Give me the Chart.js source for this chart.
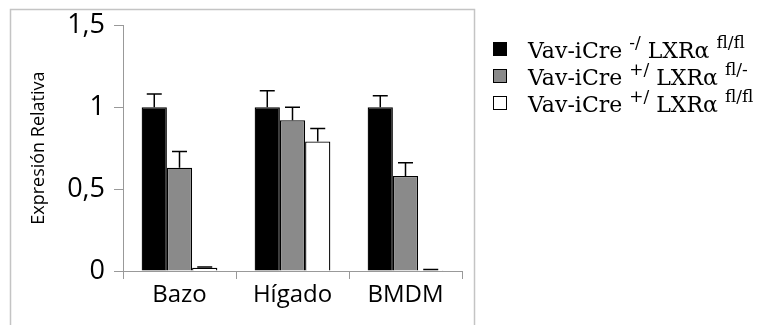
<!DOCTYPE html>
<html>
<head>
<meta charset="utf-8">
<script src="https://cdn.jsdelivr.net/npm/chart.js@4"></script>
<style>
  html, body { margin: 0; padding: 0; background: #fff; }
  #wrap { position: relative; width: 766px; height: 325px; }
  #legend { position: absolute; left: 493px; top: 35px; font-family: "DejaVu Serif", serif; font-size: 22px; color: #000; }
  #legend .row { height: 27px; display: flex; align-items: center; white-space: nowrap; }
  #legend .box { width: 12px; height: 12px; border: 1px solid #000; box-sizing: content-box; margin-right: 21px; }
  #legend sup { font-size: 17px; position: relative; top: -2px; }
</style>
</head>
<body>
<div id="wrap">
  <canvas id="chart" width="766" height="325"></canvas>
  <div id="legend"></div>
</div>
<script>
// tejidos
var categories = ["Bazo", "Hígado", "BMDM"];

// genotipos (para la leyenda)
var creGenotype = ["-/", "+/", "+/"];
var lxrGenotype = ["fl/fl", "fl/-", "fl/fl"];
var seriesColors = ["#000000", "#8a8a8a", "#ffffff"];

// expresion relativa por genotipo
var creNegFlFl = [1.0, 1.0, 1.0];
var crePosFlNeg = [0.63, 0.92, 0.58];
var crePosFlFl = [0.02, 0.79, 0.005];

// error (solo hacia arriba)
var errCreNegFlFl = [0.08, 0.10, 0.07];
var errCrePosFlNeg = [0.10, 0.08, 0.08];
var errCrePosFlFl = [0.005, 0.08, 0.004];

var yTicks = [0, 0.5, 1, 1.5];

var values = [creNegFlFl, crePosFlNeg, crePosFlFl];
var errors = [errCreNegFlFl, errCrePosFlNeg, errCrePosFlFl];

var datasets = [];
for (var i = 0; i < values.length; i++) {
	datasets.push({
		label: "Vav-iCre " + creGenotype[i] + " LXRα " + lxrGenotype[i],
		data: values[i],
		errors: errors[i],
		backgroundColor: seriesColors[i],
		borderColor: "#000",
		borderWidth: 1.3,
		barPercentage: 1.0,
		categoryPercentage: 0.67
	});
}

// marco gris alrededor del grafico
var framePlugin = {
	id: "frame",
	beforeDraw: function(chart) {
		var ctx = chart.ctx;
		ctx.save();
		ctx.strokeStyle = "#c4c4c4";
		ctx.lineWidth = 1.5;
		ctx.strokeRect(10.5, 9.5, 464, 340);
		ctx.restore();
	}
};

// barras de error
var errorBarPlugin = {
	id: "errorBars",
	afterDatasetsDraw: function(chart) {
		var ctx = chart.ctx;
		var yScale = chart.scales.y;
		ctx.save();
		ctx.strokeStyle = "#000";
		ctx.lineWidth = 1.5;
		chart.data.datasets.forEach(function(ds, di) {
			var meta = chart.getDatasetMeta(di);
			meta.data.forEach(function(bar, j) {
				var v = ds.data[j];
				var top = yScale.getPixelForValue(v + ds.errors[j]);
				var half = 7.5;
				ctx.beginPath();
				ctx.moveTo(bar.x, bar.y);
				ctx.lineTo(bar.x, top);
				ctx.moveTo(bar.x - half, top);
				ctx.lineTo(bar.x + half, top);
				ctx.stroke();
			});
		});
		ctx.restore();
	}
};

var config = {
	type: "bar",
	data: { labels: categories, datasets: datasets },
	options: {
		responsive: false,
		animation: false,
		layout: { padding: { left: 0, top: 25, right: 304, bottom: 0 } },
		plugins: { legend: { display: false }, tooltip: { enabled: false } },
		scales: {
			x: {
				grid: { offset: true, drawOnChartArea: false, tickLength: 8, color: "#999", lineWidth: 1 },
				border: { color: "#999" },
				ticks: { color: "#000", padding: 2, font: { family: "Open Sans", size: 24 } },
				afterFit: function(s) { s.height = 54; }
			},
			y: {
				min: 0,
				max: 1.5,
				afterBuildTicks: function(s) { s.ticks = yTicks.map(function(v) { return { value: v }; }); },
				grid: { drawOnChartArea: false, tickLength: 9, color: "#999" },
				border: { color: "#999" },
				ticks: {
					color: "#000",
					padding: 9,
					font: { family: "Open Sans", size: 27 },
					callback: function(v) { return String(v).replace(".", ","); }
				},
				title: {
					display: true,
					text: "Expresión Relativa",
					color: "#000",
					font: { family: "Open Sans", size: 18 },
					padding: { top: 28, bottom: 0 }
				},
				afterFit: function(s) { s.width = 123; }
			}
		}
	},
	plugins: [framePlugin, errorBarPlugin]
};

var myChart = new Chart("chart", config);

// leyenda con superindices
var legend = document.getElementById("legend");
for (var k = 0; k < datasets.length; k++) {
	var row = document.createElement("div");
	row.className = "row";
	var box = document.createElement("span");
	box.className = "box";
	box.style.background = seriesColors[k];
	row.appendChild(box);
	var txt = document.createElement("span");
	txt.innerHTML = "Vav-iCre&nbsp;<sup>" + creGenotype[k] + "</sup>&nbsp;LXRα&nbsp;<sup>" + lxrGenotype[k] + "</sup>";
	row.appendChild(txt);
	legend.appendChild(row);
}
</script>
</body>
</html>
